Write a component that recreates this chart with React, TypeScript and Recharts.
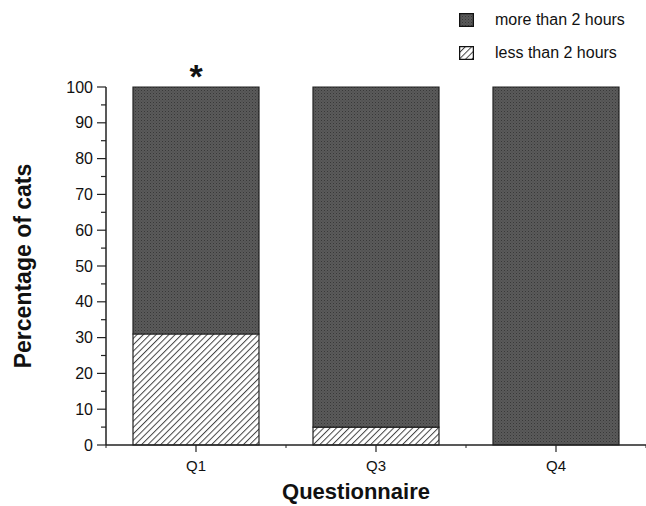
import { BarChart, Bar, XAxis, YAxis, Legend, LabelList } from 'recharts';

const categories = ['Q1', 'Q3', 'Q4'];
const lessThan2h = [31, 5, 0];
const moreThan2h = [69, 95, 100];
const significance = ['*', '', ''];
const yTicks = [0, 5, 10, 15, 20, 25, 30, 35, 40, 45, 50, 55, 60, 65, 70, 75, 80, 85, 90, 95, 100];

const data = categories.map((q, i) => ({
  q,
  less: lessThan2h[i],
  more: moreThan2h[i],
  sig: significance[i],
}));

const W = 646;
const H = 506;
const LEFT = 106;
const TOP = 87;
const BOTTOM = 61;
const FONT = '"Liberation Sans", Arial, Helvetica, sans-serif';
const halfBand = (W - LEFT) / categories.length / 2;

function Patterns({ prefix }: { prefix: string }) {
  return (
    <defs>
      <pattern id={`${prefix}dots`} width="3" height="3" patternUnits="userSpaceOnUse">
        <rect width="3" height="3" fill="#5a5a5a" />
        <rect x="0" y="0" width="1" height="1" fill="#383838" />
        <rect x="1.5" y="1.5" width="1" height="1" fill="#444" />
      </pattern>
      <pattern id={`${prefix}hatch`} width="4.5" height="4.5" patternUnits="userSpaceOnUse" patternTransform="rotate(45)">
        <rect width="4.5" height="4.5" fill="#fff" />
        <line x1="0" y1="0" x2="0" y2="4.5" stroke="#444" strokeWidth="2" />
      </pattern>
    </defs>
  );
}

function YTick(props: any) {
  const { x, y, payload } = props;
  const major = payload.value % 10 === 0;
  return (
    <g>
      <line x1={x - (major ? 9 : 5)} x2={x} y1={y} y2={y} stroke="#222" strokeWidth={1.2} />
      {major && (
        <text x={x - 13} y={y} dy={5.5} textAnchor="end" fontSize={16} fill="#111" fontFamily={FONT}>
          {payload.value}
        </text>
      )}
    </g>
  );
}

function XTick(props: any) {
  const { x, y, payload, index } = props;
  return (
    <g>
      <line x1={x} x2={x} y1={y} y2={y + 7} stroke="#222" strokeWidth={1.2} />
      {index === 0 && <line x1={x - halfBand} x2={x - halfBand} y1={y} y2={y + 3} stroke="#222" />}
      <line x1={x + halfBand} x2={x + halfBand} y1={y} y2={y + 3} stroke="#222" />
      <text x={x} y={y + 26} textAnchor="middle" fontSize={15} fill="#111" fontFamily={FONT}>
        {payload.value}
      </text>
    </g>
  );
}

function LegendBox() {
  const items = [
    { key: 'more', label: 'more than 2 hours' },
    { key: 'less', label: 'less than 2 hours' },
  ];
  return (
    <div style={{ fontFamily: FONT, fontSize: 16, color: '#111' }}>
      {items.map((it) => (
        <div key={it.key} style={{ display: 'flex', alignItems: 'center', height: 18, marginBottom: 15 }}>
          <svg width={15} height={14} style={{ marginRight: 21 }}>
            <Patterns prefix={`lg-${it.key}-`} />
            <rect
              x={0.5}
              y={0.5}
              width={14}
              height={13}
              fill={`url(#lg-${it.key}-${it.key === 'more' ? 'dots' : 'hatch'})`}
              stroke="#111"
              strokeWidth={1.5}
            />
          </svg>
          <span>{it.label}</span>
        </div>
      ))}
    </div>
  );
}

function SigLabel(props: any) {
  const { x, y, width, value } = props;
  if (!value) return null;
  return (
    <text x={x + width / 2} y={y} dy={1} textAnchor="middle" fontSize={34} fontWeight="bold" fill="#111" fontFamily={FONT}>
      {value}
    </text>
  );
}

export default function App() {
  return (
    <div style={{ position: 'absolute', left: 0, top: 0, background: '#fff' }}>
      <BarChart
        width={W}
        height={H}
        data={data}
        margin={{ top: TOP, right: 0, bottom: 0, left: 0 }}
        barCategoryGap="15%"
      >
        <Patterns prefix="" />
        <XAxis
          dataKey="q"
          height={BOTTOM}
          tickLine={false}
          tickSize={0}
          tickMargin={0}
          axisLine={{ stroke: '#222', strokeWidth: 1.5 }}
          tick={<XTick />}
          label={{
            value: 'Questionnaire',
            position: 'insideBottom',
            dx: -20,
            dy: -2,
            style: { fontSize: 22, fontWeight: 'bold', fill: '#111', fontFamily: FONT },
          }}
        />
        <YAxis
          width={LEFT}
          domain={[0, 100]}
          ticks={yTicks}
          interval={0}
          tickLine={false}
          tickSize={0}
          tickMargin={0}
          axisLine={{ stroke: '#222', strokeWidth: 1.5 }}
          tick={<YTick />}
          label={{
            value: 'Percentage of cats',
            angle: -90,
            position: 'insideLeft',
            dx: 18,
            style: { textAnchor: 'middle', fontSize: 23, fontWeight: 'bold', fill: '#111', fontFamily: FONT },
          }}
        />
        <Legend
          layout="horizontal"
          align="center"
          verticalAlign="middle"
          content={<LegendBox />}
          wrapperStyle={{ position: 'absolute', top: 11, left: 459, width: 187, height: 60 }}
        />
        <Bar dataKey="less" stackId="a" fill="url(#hatch)" stroke="#222" strokeWidth={1.2} isAnimationActive={false} />
        <Bar dataKey="more" stackId="a" fill="url(#dots)" stroke="#222" strokeWidth={1.2} isAnimationActive={false}>
          <LabelList dataKey="sig" content={<SigLabel />} />
        </Bar>
      </BarChart>
    </div>
  );
}
